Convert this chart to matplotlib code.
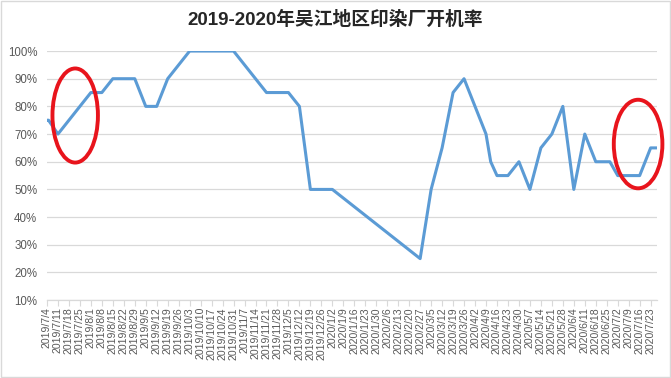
import matplotlib
matplotlib.use('Agg')
import matplotlib.pyplot as plt
import matplotlib.dates as mdates
from matplotlib.patches import Ellipse, Rectangle
import pandas as pd

plt.rcParams['font.family'] = ['Liberation Sans', 'Noto Sans CJK SC', 'DejaVu Sans']

# 2019-2020 吴江印染厂开机率 (%)
dates = ['2019-07-04', '2019-07-05', '2019-07-11', '2019-08-01', '2019-08-08',
         '2019-08-15', '2019-08-29', '2019-09-05', '2019-09-12', '2019-09-19',
         '2019-10-03', '2019-10-31', '2019-11-21', '2019-12-05', '2019-12-12',
         '2019-12-19', '2020-01-02', '2020-02-27', '2020-03-05', '2020-03-12',
         '2020-03-19', '2020-03-26', '2020-04-02', '2020-04-09', '2020-04-12',
         '2020-04-16', '2020-04-23', '2020-04-30', '2020-05-07', '2020-05-14',
         '2020-05-21', '2020-05-28', '2020-06-04', '2020-06-11', '2020-06-18',
         '2020-06-27', '2020-07-02', '2020-07-16', '2020-07-23', '2020-07-27']
rates = [75, 75, 70, 85, 85,
         90, 90, 80, 80, 90,
         100, 100, 85, 85, 80,
         50, 50, 25, 50, 65,
         85, 90, 80, 70, 60,
         55, 55, 60, 50, 65,
         70, 80, 50, 70, 60,
         60, 55, 55, 65, 65]

title = '2019-2020年吴江地区印染厂开机率'
y_ticks = [10, 20, 30, 40, 50, 60, 70, 80, 90, 100]
tick_dates = pd.date_range('2019-07-04', '2020-07-23', freq='7D')
tick_labels = [f'{d.year}/{d.month}/{d.day}' for d in tick_dates]

# 빨간 동그라미 (중심 날짜, 중심 값, 폭(일), 높이(%))
circles = [('2019-07-22', 76.7, 29, 34),
           ('2020-07-15', 66.4, 31, 32)]

fig = plt.figure(figsize=(6.71, 3.78), dpi=100)
ax = fig.add_axes([0.070, 0.206, 0.909, 0.659])

x = pd.to_datetime(dates)
ax.plot(x, rates, color='#5B9BD5', lw=2.2, solid_joinstyle='round', zorder=3)

for c_date, c_val, w, h in circles:
    cx = mdates.date2num(pd.Timestamp(c_date))
    ax.add_patch(Ellipse((cx, c_val), w, h, fill=False, edgecolor='#E8141C',
                         lw=2.8, zorder=4, clip_on=False))

ax.set_ylim(10, 100)
ax.set_xlim(pd.Timestamp('2019-07-04'), pd.Timestamp('2020-07-27'))
ax.set_yticks(y_ticks)
ax.set_yticklabels([f'{v}%' for v in y_ticks])
ax.set_xticks(tick_dates)
ax.set_xticklabels(tick_labels, rotation=90)

ax.grid(axis='y', color='#D9D9D9', lw=0.9)
ax.set_axisbelow(True)
for s in ['top', 'right', 'left']:
    ax.spines[s].set_visible(False)
ax.spines['bottom'].set_color('#D9D9D9')
ax.spines['bottom'].set_linewidth(0.9)
ax.tick_params(axis='y', length=0, pad=7, labelsize=8.3, labelcolor='#595959')
ax.tick_params(axis='x', length=4, width=0.8, color='#D9D9D9', pad=1,
               labelsize=7.6, labelcolor='#595959')

fig.text(0.5, 0.947, title, ha='center', va='center', fontsize=13.5,
         fontweight='bold', color='#262626')

fig.patches.append(Rectangle((0.001, 0.002), 0.997, 0.995, transform=fig.transFigure,
                             fill=False, edgecolor='#D9D9D9', lw=1))

plt.savefig('out.png', dpi=100)
